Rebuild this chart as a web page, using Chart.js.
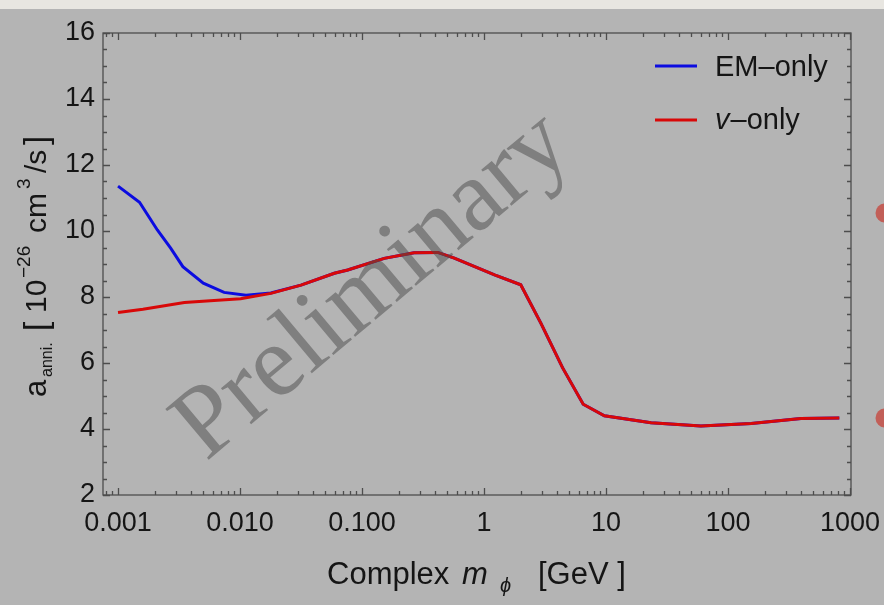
<!DOCTYPE html>
<html>
<head>
<meta charset="utf-8">
<script src="https://cdn.jsdelivr.net/npm/chart.js@4.4.1/dist/chart.umd.min.js"></script>
<style>
  html, body { margin: 0; padding: 0; background: #b4b4b4; }
  #wrap { width: 884px; height: 605px; }
</style>
</head>
<body>
<div id="wrap"><canvas id="annChart" width="884" height="605"></canvas></div>
<script>
// values (x in GeV, y in 10^-26 cm^3/s)
const emMass   = [0.001, 0.0015, 0.0021, 0.0027, 0.0034, 0.005, 0.0074, 0.0112, 0.0179, 0.0316, 0.0593, 0.0763, 0.152, 0.267, 0.418, 0.571, 1.22, 2.0, 2.93, 4.4, 6.5, 9.7, 23.4, 60, 155, 396, 817];
const emValues = [11.36, 10.87, 10.03, 9.48, 8.92, 8.42, 8.14, 8.05, 8.12, 8.36, 8.72, 8.82, 9.17, 9.34, 9.35, 9.18, 8.67, 8.37, 7.2, 5.86, 4.75, 4.4, 4.19, 4.09, 4.17, 4.32, 4.33];

const nuMass   = [0.001, 0.0016, 0.0035, 0.0057, 0.0101, 0.0179, 0.0316, 0.0593, 0.0763, 0.152, 0.267, 0.418, 0.571, 1.22, 2.0, 2.93, 4.4, 6.5, 9.7, 23.4, 60, 155, 396, 817];
const nuValues = [7.53, 7.63, 7.83, 7.89, 7.95, 8.11, 8.36, 8.72, 8.82, 9.17, 9.34, 9.35, 9.18, 8.67, 8.37, 7.2, 5.86, 4.75, 4.4, 4.19, 4.09, 4.17, 4.32, 4.33];

const xTickValues = [0.001, 0.01, 0.1, 1, 10, 100, 1000];
const xTickLabels = ['0.001', '0.010', '0.100', '1', '10', '100', '1000'];
const yTickValues = [2, 4, 6, 8, 10, 12, 14, 16];
const yTickLabels = ['2', '4', '6', '8', '10', '12', '14', '16'];

const seriesNames = ['EM\u2013only', '\u2013only'];
const seriesColors = ['#0c0ce0', '#d80808'];

const SANS = '"Liberation Sans", Arial, sans-serif';
const FRAME = '#4d4d4d';

// draws the slide background, frame with inside ticks, titles, legend, watermark
const slidePlugin = {
  id: 'slide',
  beforeDraw(chart) {
    const c = chart.ctx;
    c.save();
    c.fillStyle = '#b4b4b4';
    c.fillRect(0, 0, chart.width, chart.height);
    c.fillStyle = '#e8e6e1';
    c.fillRect(0, 0, chart.width, 9);
    // bullet dots of the slide peeking in at the right edge
    c.fillStyle = '#c25f58';
    [213, 418].forEach(y => {
      c.beginPath();
      c.arc(885, y, 9.5, 0, Math.PI * 2);
      c.fill();
    });
    c.restore();
  },
  afterDatasetsDraw(chart) {
    const c = chart.ctx;
    c.save();
    c.translate(206, 462);
    c.rotate(-40 * Math.PI / 180);
    c.font = '102px "Liberation Serif", "Times New Roman", serif';
    c.fillStyle = 'rgba(74,74,74,0.5)';
    c.textBaseline = 'alphabetic';
    c.fillText('Preliminary', 0, 0);
    c.restore();
  },
  afterDraw(chart) {
    const c = chart.ctx;
    const a = chart.chartArea;
    const xs = chart.scales.x, ys = chart.scales.y;
    c.save();
    c.strokeStyle = FRAME;
    c.lineWidth = 1.3;
    c.strokeRect(a.left, a.top, a.right - a.left, a.bottom - a.top);

    c.beginPath();
    // x ticks (major at decades, minor 2..9) on bottom and top
    for (let e = -4; e <= 3; e++) {
      for (let k = 1; k <= 9; k++) {
        const v = k * Math.pow(10, e);
        if (v < xs.min || v > xs.max) continue;
        const px = Math.round(xs.getPixelForValue(v)) + 0.5;
        const len = k === 1 ? 7 : 4;
        c.moveTo(px, a.bottom); c.lineTo(px, a.bottom - len);
        c.moveTo(px, a.top); c.lineTo(px, a.top + len);
      }
    }
    // y ticks every 0.5, major every 2, on left and right
    for (let v = 2; v <= 16; v += 0.5) {
      const py = Math.round(ys.getPixelForValue(v)) + 0.5;
      const len = v % 2 === 0 ? 7 : 4;
      c.moveTo(a.left, py); c.lineTo(a.left + len, py);
      c.moveTo(a.right, py); c.lineTo(a.right - len, py);
    }
    c.stroke();

    // legend
    c.lineWidth = 3;
    c.strokeStyle = seriesColors[0];
    c.beginPath(); c.moveTo(655, 66); c.lineTo(697, 66); c.stroke();
    c.strokeStyle = seriesColors[1];
    c.beginPath(); c.moveTo(655, 120); c.lineTo(697, 120); c.stroke();
    c.fillStyle = '#151515';
    c.textBaseline = 'alphabetic';
    c.textAlign = 'left';
    c.font = '29px ' + SANS;
    c.fillText(seriesNames[0], 715, 76);
    c.font = 'italic 29px ' + SANS;
    c.fillText('v', 715, 129);
    const vw = c.measureText('v').width;
    c.font = '29px ' + SANS;
    c.fillText(seriesNames[1], 715 + vw + 1, 129);

    // x axis title
    c.font = '31px ' + SANS;
    c.fillText('Complex', 327, 584);
    c.font = 'italic 31px ' + SANS;
    c.fillText('m', 462, 584);
    c.font = 'italic 20px ' + SANS;
    c.fillText('\u03d5', 500, 592);
    c.font = '31px ' + SANS;
    c.fillText('[GeV ]', 538, 584);

    // y axis title, rotated
    c.translate(46, 397);
    c.rotate(-Math.PI / 2);
    const runs = [
      ['a', 0, 31, 0],
      ['anni.', 20, 16, 6],
      ['[', 66, 33, 1],
      ['10', 84, 30, 0],
      ['\u221226', 119, 19, -16],
      ['cm', 164, 30, 0],
      ['3', 208, 19, -16],
      ['/s', 224, 30, 0],
      [']', 252, 33, 1]
    ];
    runs.forEach(([t, rx, size, ry]) => {
      c.font = size + 'px ' + SANS;
      c.fillText(t, rx, ry);
    });
    c.restore();
  }
};

new Chart(document.getElementById('annChart'), {
  type: 'line',
  data: {
    datasets: [
      {
        label: seriesNames[0],
        data: emMass.map((m, i) => ({ x: m, y: emValues[i] })),
        borderColor: seriesColors[0],
        borderWidth: 3,
        pointRadius: 0,
        tension: 0,
        order: 1
      },
      {
        label: 'v' + seriesNames[1],
        data: nuMass.map((m, i) => ({ x: m, y: nuValues[i] })),
        borderColor: seriesColors[1],
        borderWidth: 3,
        pointRadius: 0,
        tension: 0,
        order: 0
      }
    ]
  },
  options: {
    responsive: false,
    animation: false,
    layout: { padding: { top: 33, right: 33, left: 0, bottom: 0 } },
    plugins: { legend: { display: false }, tooltip: { enabled: false } },
    scales: {
      x: {
        type: 'logarithmic',
        min: 0.000753,
        max: 1019,
        grid: { display: false, drawTicks: false },
        border: { display: false },
        afterBuildTicks: s => { s.ticks = xTickValues.map(v => ({ value: v })); },
        afterFit: s => { s.height = 110; s.paddingLeft = 0; s.paddingRight = 0; },
        ticks: {
          autoSkip: false,
          maxRotation: 0,
          padding: 12,
          color: '#151515',
          font: { family: SANS, size: 27 },
          callback: (v, i) => xTickLabels[i]
        }
      },
      y: {
        type: 'linear',
        min: 2,
        max: 16,
        grid: { display: false, drawTicks: false },
        border: { display: false },
        afterBuildTicks: s => { s.ticks = yTickValues.map(v => ({ value: v })); },
        afterFit: s => { s.width = 103; s.paddingTop = 0; s.paddingBottom = 0; },
        ticks: {
          padding: 8,
          color: '#151515',
          font: { family: SANS, size: 27 },
          callback: (v, i) => yTickLabels[i]
        }
      }
    }
  },
  plugins: [slidePlugin]
});
</script>
</body>
</html>
